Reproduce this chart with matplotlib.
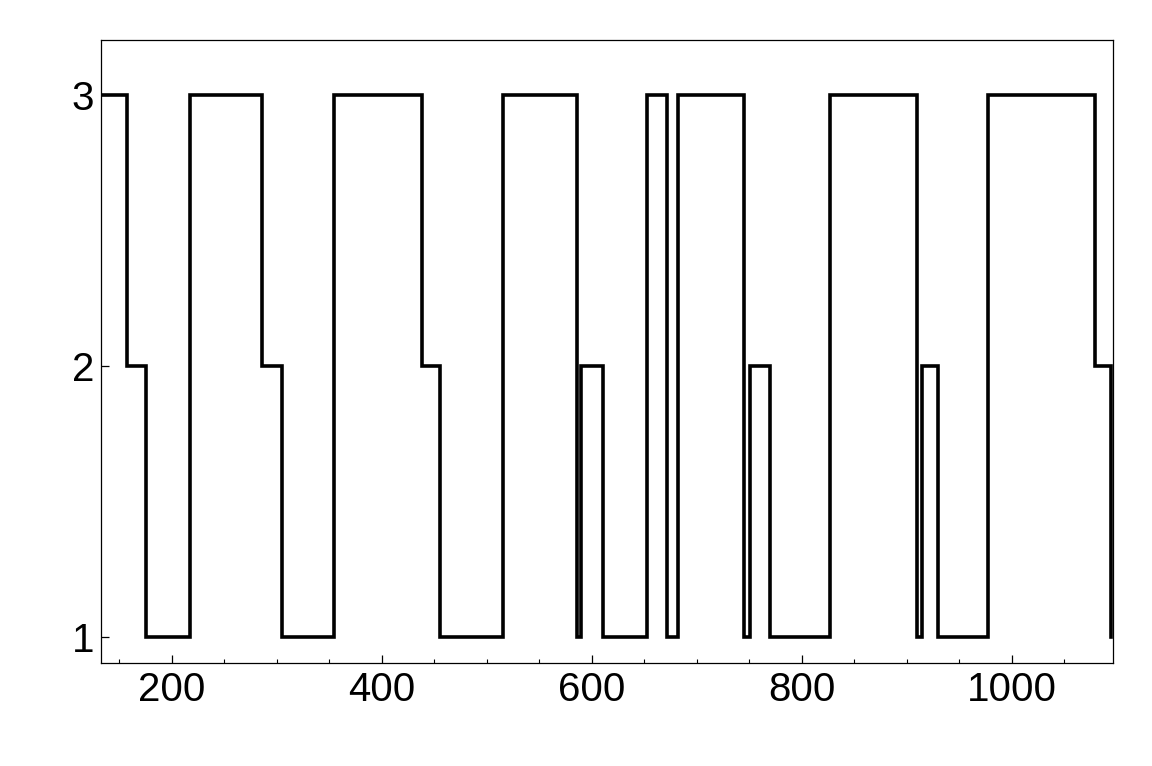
import matplotlib
matplotlib.use("Agg")
import matplotlib.pyplot as plt
from matplotlib.ticker import MultipleLocator

# Step breakpoints (x where a new level starts) and the level held from there
x_steps = [120, 157, 176, 217, 286, 305, 355, 438, 456, 516, 586, 590, 611,
           653, 672, 682, 745, 751, 770, 827, 910, 915, 930, 977, 1079, 1095]
levels = [3, 2, 1, 3, 2, 1, 3, 2, 1, 3, 1, 2, 1,
          3, 1, 3, 1, 2, 1, 3, 1, 2, 1, 3, 2, 1]

x_ticks = [200, 400, 600, 800, 1000]
y_ticks = [1, 2, 3]

plt.rcParams['font.family'] = ['Liberation Sans', 'DejaVu Sans']

fig = plt.figure(figsize=(11.52, 7.66), dpi=100)
ax = fig.add_axes([101/1152, 1-663/766, (1113-101)/1152, (663-40)/766])

ax.plot(x_steps, levels, drawstyle='steps-post', color='black', lw=2.6,
        solid_joinstyle='miter')

ax.set_xlim(132.7, 1096.5)
ax.set_ylim(0.904, 3.203)
ax.set_xticks(x_ticks)
ax.set_yticks(y_ticks)
ax.xaxis.set_minor_locator(MultipleLocator(50))
ax.tick_params(axis='both', which='major', direction='in', length=6,
               width=0.9, labelsize=29, top=False, right=False)
ax.tick_params(axis='x', which='minor', direction='in', length=3, width=0.8,
               top=False)
ax.tick_params(axis='x', which='major', pad=6)
ax.tick_params(axis='y', which='major', pad=5)
for s in ax.spines.values():
    s.set_linewidth(0.9)

fig.savefig('out.png', dpi=100)
